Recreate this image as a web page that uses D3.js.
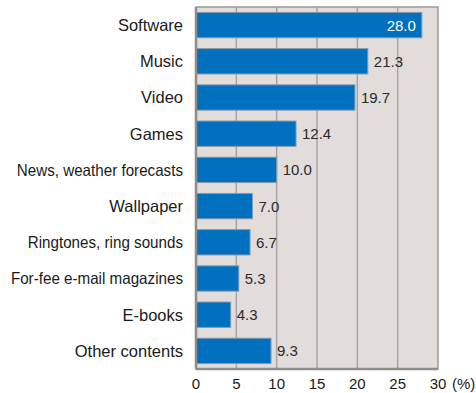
<!DOCTYPE html>
<html>
<head>
<meta charset="utf-8">
<script src="https://cdn.jsdelivr.net/npm/d3@7"></script>
<style>
  body { margin: 0; background: #fff; }
  svg text { font-family: "Liberation Sans", Arial, sans-serif; }
</style>
</head>
<body>
<svg width="476" height="393"></svg>
<script>
// categories, top to bottom
let categories = ["Software", "Music", "Video", "Games", "News, weather forecasts",
  "Wallpaper", "Ringtones, ring sounds", "For-fee e-mail magazines", "E-books", "Other contents"];
let values = [28.0, 21.3, 19.7, 12.4, 10.0, 7.0, 6.7, 5.3, 4.3, 9.3];
let ticks = [0, 5, 10, 15, 20, 25, 30];

let svg = d3.select("svg");
let margin = {left: 196, right: 38, top: 7, bottom: 24};
let width = 476 - margin.left - margin.right;
let height = 393 - margin.top - margin.bottom;

let g = svg.append("g").attr("transform", "translate(" + margin.left + "," + margin.top + ")");

let x = d3.scaleLinear().domain([0, 30]).range([0, width]);
let y = d3.scaleBand().domain(categories).range([0, height]).paddingInner(0.3).paddingOuter(0.15);

// plot background
g.append("rect")
  .attr("width", width).attr("height", height)
  .attr("fill", "#e2dddb");

// gridlines
g.selectAll(".grid").data(ticks.slice(1, -1))
  .enter().append("line")
    .attr("x1", d => x(d)).attr("x2", d => x(d))
    .attr("y1", 0).attr("y2", height)
    .attr("stroke", "#a8a6a5").attr("stroke-width", 1.5);

// frame
g.append("rect")
  .attr("width", width).attr("height", height)
  .attr("fill", "none").attr("stroke", "#9c9a99").attr("stroke-width", 1.5);

// bars
g.selectAll(".bar").data(values)
  .enter().append("rect")
    .attr("x", 0)
    .attr("y", (d, i) => y(categories[i]))
    .attr("width", d => x(d))
    .attr("height", y.bandwidth())
    .attr("fill", "#0070bf")
    .attr("stroke", "#8a9aa8").attr("stroke-width", 1);

// value labels
g.selectAll(".val").data(values)
  .enter().append("text")
    .attr("x", (d, i) => i == 0 ? x(d) - 6 : x(d) + 6)
    .attr("y", (d, i) => y(categories[i]) + y.bandwidth() / 2)
    .attr("dy", "0.36em")
    .attr("text-anchor", (d, i) => i == 0 ? "end" : "start")
    .attr("fill", (d, i) => i == 0 ? "#ffffff" : "#2a2a2a")
    .style("font-size", "15px")
    .text(d => d.toFixed(1));

// left and bottom axis lines
g.append("line").attr("x1", 0).attr("x2", 0).attr("y1", 0).attr("y2", height)
  .attr("stroke", "#8f8d8c").attr("stroke-width", 2.5);
g.append("line").attr("x1", 0).attr("x2", width).attr("y1", height).attr("y2", height)
  .attr("stroke", "#8f8d8c").attr("stroke-width", 2.5);

// category labels (long ones are set a bit condensed, as in the original)
g.selectAll(".cat").data(categories)
  .enter().append("text")
    .attr("x", -13)
    .attr("y", d => y(d) + y.bandwidth() / 2)
    .attr("dy", "0.36em")
    .attr("text-anchor", "end")
    .attr("fill", "#1a1a1a")
    .style("font-size", "16.5px")
    .text(d => d)
    .each(function(d) {
      if (d.length > 20) {
        let w = this.getComputedTextLength();
        d3.select(this).attr("textLength", w * 0.92).attr("lengthAdjust", "spacingAndGlyphs");
      }
    });

// x tick labels
g.selectAll(".tick").data(ticks)
  .enter().append("text")
    .attr("x", d => x(d))
    .attr("y", height + 20)
    .attr("text-anchor", "middle")
    .attr("fill", "#1a1a1a")
    .style("font-size", "15px")
    .text(d => d);

g.append("text")
  .attr("x", x(30) + 14).attr("y", height + 20)
  .attr("fill", "#1a1a1a")
  .style("font-size", "15px")
  .text("(%)");
</script>
</body>
</html>
